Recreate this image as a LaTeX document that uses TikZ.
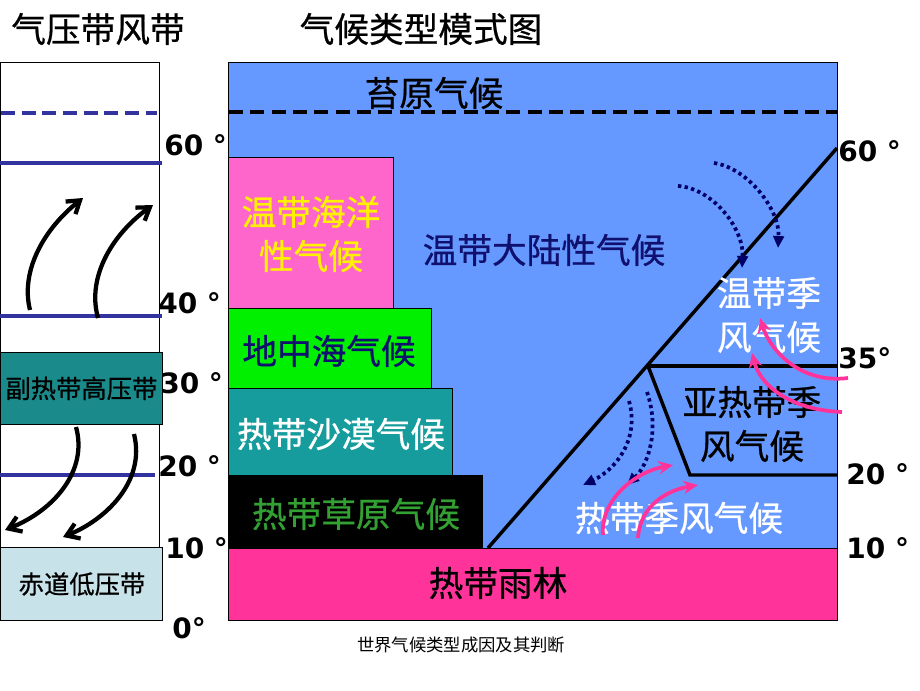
\documentclass[tikz,border=0pt]{standalone}
\usepackage{fontspec}
\newfontfamily\cjk{Noto Sans CJK SC}
\newfontfamily\cjkb{Noto Sans CJK SC}[FakeBold=0.7]
\newfontfamily\latf{DejaVu Sans}
\usetikzlibrary{arrows.meta}
\definecolor{mainblue}{HTML}{6699FF}
\definecolor{oceanpink}{HTML}{FF66CC}
\definecolor{medgreen}{HTML}{00F000}
\definecolor{desertteal}{HTML}{169C9C}
\definecolor{highteal}{HTML}{1A8A8A}
\definecolor{rainpink}{HTML}{FF3399}
\definecolor{lowblue}{HTML}{C8E2EA}
\definecolor{navytext}{HTML}{10106E}
\definecolor{savgreen}{HTML}{33A033}
\definecolor{linblue}{HTML}{3333A0}
\definecolor{dotnavy}{HTML}{000066}
\definecolor{arrpink}{HTML}{FF3399}
\tikzset{
  zh/.style={font=\cjkb\fontsize{26}{33}\selectfont, align=center, inner sep=0pt},
  zhs/.style={font=\cjkb\fontsize{19}{22}\selectfont, align=center, inner sep=0pt},
  deglab/.style={font=\latf\bfseries\fontsize{21}{24}\selectfont, anchor=west, inner sep=0pt},
  zone/.style={draw=black, line width=0.6pt},
  latline/.style={draw=linblue, line width=2.5pt},
  border/.style={black, line width=2.6pt},
  uparr/.style={black, line width=3.2pt, -{Straight Barb[length=9pt,width=12pt,line width=3.2pt]}},
  dotarr/.style={dotnavy, line width=2.8pt, dash pattern=on 2.5pt off 2.5pt, -{Triangle[length=9pt,width=8pt]}},
  pinkarr/.style={arrpink, line width=2.8pt, -{Stealth[length=11pt,width=10pt]}},
}
\begin{document}
\begin{tikzpicture}[x=0.75pt,y=-0.75pt]
\useasboundingbox (0,0) rectangle (920,690);
% ---------- titles ----------
\node[zh] (t1) at (98,29) {气压带风带};
\node[zh] (t2) at (421,29) {气候类型模式图};
\node[font=\cjk\fontsize{13}{15}\selectfont, inner sep=0pt] (cap) at (461,645) {世界气候类型成因及其判断};
% ---------- left panel ----------
\draw[black, line width=0.6pt] (0,62) rectangle (159,620);
\draw[linblue, line width=2.5pt, dash pattern=on 10.5pt off 5pt] (1,113) -- (157,113);
\draw[latline] (0,163) -- (162,163);
\draw[latline] (0,316) -- (162,316);
\draw[latline] (0,475) -- (155,475);
\node[zone, fill=highteal, minimum width=162*0.75pt, minimum height=72*0.75pt, anchor=north west, inner sep=0pt] (hp) at (0,352) {};
\node[zhs] (hpt) at (hp.center) {副热带高压带};
\node[zone, fill=lowblue, minimum width=162*0.75pt, minimum height=73*0.75pt, anchor=north west, inner sep=0pt] (lp) at (0,547) {};
\node[zhs] (lpt) at (82,584) {赤道低压带};
% arrows left
\coordinate (ua1) at (30,310); \coordinate (ub1) at (83,198);
\coordinate (ua2) at (98,318); \coordinate (ub2) at (153,205);
\draw[uparr] (ua1) .. controls (20,270) and (45,228) .. (ub1);
\draw[uparr] (ua2) .. controls (86,275) and (115,232) .. (ub2);
\coordinate (da1) at (76,427); \coordinate (db1) at (5,530);
\coordinate (da2) at (134,434); \coordinate (db2) at (63,537);
\draw[uparr] (da1) .. controls (88,470) and (55,510) .. (db1);
\draw[uparr] (da2) .. controls (146,482) and (105,520) .. (db2);
% left degree labels
\node[deglab] (l60) at (164,145) {60 °};
\node[deglab] (l40) at (158,303) {40 °};
\node[deglab] (l30) at (160,383) {30 °};
\node[deglab] (l20) at (158,466) {20 °};
\node[deglab] (l10) at (165,548) {10 °};
\node[deglab] (l0) at (172,628) {0°};
% ---------- main panel ----------
\node[zone, fill=mainblue, minimum width=609*0.75pt, minimum height=558*0.75pt, anchor=north west, inner sep=0pt] (main) at (228,62) {};
\draw[black, line width=2.4pt, dash pattern=on 10.5pt off 5.5pt] (229,112) -- (837,112);
\node[zh] (tundra) at (434,93) {苔原气候};
\node[zone, fill=oceanpink, minimum width=165*0.75pt, minimum height=151*0.75pt, anchor=north west, inner sep=0pt] (ocean) at (228,157) {};
\node[zh, text=yellow] (oceant) at (311,234) {温带海洋\\性气候};
\node[zone, fill=medgreen, minimum width=203*0.75pt, minimum height=80*0.75pt, anchor=north west, inner sep=0pt] (med) at (228,308) {};
\node[zh, text=navytext] (medt) at (329,351) {地中海气候};
\node[zone, fill=desertteal, minimum width=224*0.75pt, minimum height=87*0.75pt, anchor=north west, inner sep=0pt] (des) at (228,388) {};
\node[zh, text=white] (dest) at (341,434) {热带沙漠气候};
\node[zone, fill=black, minimum width=254*0.75pt, minimum height=73*0.75pt, anchor=north west, inner sep=0pt] (sav) at (228,475) {};
\node[zh, text=savgreen] (savt) at (356,514) {热带草原气候};
\node[zone, fill=rainpink, minimum width=609*0.75pt, minimum height=72*0.75pt, anchor=north west, inner sep=0pt] (rain) at (228,548) {};
\node[zh] (raint) at (498,583) {热带雨林};
% monsoon boundaries
\coordinate (d0) at (488,548);
\coordinate (d1) at (837,148);
\coordinate (k35) at (648,366);
\coordinate (r35) at (837,366);
\coordinate (k20) at (690,475);
\coordinate (r20) at (837,475);
\draw[border] (d0) -- (d1);
\draw[border] (k35) -- (r35);
\draw[border] (k35) -- (k20) -- (r20);
\node[zh, text=navytext] (cont) at (544,250) {温带大陆性气候};
\node[zh, text=white] (tmon) at (769,315) {温带季\\风气候};
\node[zh] (smon) at (752,424) {亚热带季\\风气候};
\node[zh, text=white] (trmon) at (679,518) {热带季风气候};
% dotted arrows
\coordinate (pa1) at (678,186); \coordinate (pb1) at (742,268);
\coordinate (pa2) at (714,163); \coordinate (pb2) at (778,248);
\draw[dotarr] (pa1) .. controls (712,188) and (744,228) .. (pb1);
\draw[dotarr] (pa2) .. controls (748,168) and (780,210) .. (pb2);
\coordinate (qa1) at (629,401); \coordinate (qb1) at (583,485);
\coordinate (qa2) at (647,392); \coordinate (qb2) at (627,485);
\draw[dotarr] (qa1) .. controls (640,440) and (615,470) .. (qb1);
\draw[dotarr] (qa2) .. controls (660,430) and (648,465) .. (qb2);
% pink arrows
\coordinate (ra1) at (848,378); \coordinate (rb1) at (760,318);
\coordinate (ra2) at (842,412); \coordinate (rb2) at (752,353);
\draw[pinkarr] (ra1) .. controls (800,384) and (770,350) .. (rb1);
\draw[pinkarr] (ra2) .. controls (790,410) and (760,385) .. (rb2);
\coordinate (sa1) at (603,535); \coordinate (sb1) at (673,465);
\coordinate (sa2) at (638,538); \coordinate (sb2) at (698,485);
\draw[pinkarr] (sa1) .. controls (600,500) and (635,472) .. (sb1);
\draw[pinkarr] (sa2) .. controls (640,505) and (668,490) .. (sb2);
% right degree labels
\node[deglab] (r60l) at (838,151) {60 °};
\node[deglab] (r35l) at (838,358) {35°};
\node[deglab] (r20l) at (846,474) {20 °};
\node[deglab] (r10l) at (846,548) {10 °};
\end{tikzpicture}
\end{document}
